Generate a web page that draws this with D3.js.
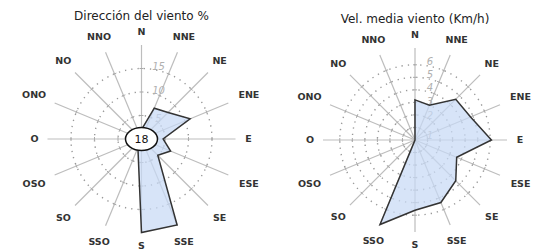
<!DOCTYPE html>
<html>
<head>
<meta charset="utf-8">
<script src="https://cdn.jsdelivr.net/npm/d3@7"></script>
<style>
  body { margin: 0; background: #fff; }
  svg { display: block; }
</style>
</head>
<body>
<div id="chart"></div>
<script>
//16 compass points, clockwise from north (spanish names)
var direcciones = ["N","NNE","NE","ENE","E","ESE","SE","SSE","S","SSO","SO","OSO","O","ONO","NO","NNO"];

//left rose: frequency in % per direction
var frecuencia = [2, 7.1, 8, 11.2, 4.6, 6.7, 4.9, 19.8, 19.9, 2, 1.5, 1.5, 1.5, 1.5, 1.5, 1.5];
var calma = 18;
var ticksFrecuencia = [5, 10, 15];

//right rose: mean speed km/h per direction
var velocidad = [3.2, 3.0, 4.6, 4.8, 6.1, 3.6, 4.6, 5.4, 5.6, 7.3, 0, 0, 0, 0, 0, 0];
var ticksVelocidad = [1, 2, 3, 4, 5, 6];

var width = 533, height = 251;

var svg = d3.select('#chart')
  .append('svg')
  .attr('width', width)
  .attr('height', height);

//draws one rose, all the options in one place
function drawRose(opts) {
  var g = svg.append('g')
    .attr('transform', 'translate(' + opts.cx + ',' + opts.cy + ')');

  var r = d3.scaleLinear().domain(opts.domain).range([0, opts.radius]);
  var step = 2 * Math.PI / direcciones.length;

  //title on top
  svg.append('text')
    .attr('x', opts.cx)
    .attr('y', opts.titleY)
    .attr('text-anchor', 'middle')
    .style('font-family', 'DejaVu Sans, Verdana, sans-serif')
    .style('font-size', '12px')
    .style('fill', '#222')
    .text(opts.title);

  //dotted rings
  g.selectAll('circle.ring')
    .data(opts.ticks)
    .enter()
    .append('circle')
    .attr('class', 'ring')
    .attr('r', function(d) { return r(d); })
    .attr('fill', 'none')
    .attr('stroke', '#999')
    .attr('stroke-width', 1.4)
    .attr('stroke-dasharray', '1.3,5');

  //spokes
  g.selectAll('line.spoke')
    .data(direcciones)
    .enter()
    .append('line')
    .attr('class', 'spoke')
    .attr('x1', 0).attr('y1', 0)
    .attr('x2', function(d, i) { return opts.spoke * Math.sin(i * step); })
    .attr('y2', function(d, i) { return -opts.spoke * Math.cos(i * step); })
    .attr('stroke', '#bdbdbd')
    .attr('stroke-width', 1.2);

  //little ticks where spokes cross the rings
  direcciones.forEach(function(d, i) {
    var a = i * step;
    opts.ticks.forEach(function(t) {
      var rr = r(t);
      var x = rr * Math.sin(a), y = -rr * Math.cos(a);
      var px = 2 * Math.cos(a), py = 2 * Math.sin(a);
      g.append('line')
        .attr('x1', x - px).attr('y1', y - py)
        .attr('x2', x + px).attr('y2', y + py)
        .attr('stroke', '#aaa')
        .attr('stroke-width', 1);
    });
  });

  //ring values next to the N spoke
  g.selectAll('text.tick')
    .data(opts.ticks)
    .enter()
    .append('text')
    .attr('class', 'tick')
    .attr('x', opts.tickDx)
    .attr('y', function(d) {
      var rr = r(d);
      return -Math.sqrt(Math.max(rr * rr - opts.tickDx * opts.tickDx, 0)) - 1;
    })
    .attr('text-anchor', 'middle')
    .style('font-family', 'DejaVu Sans, Verdana, sans-serif')
    .style('font-size', '10px')
    .style('font-style', 'italic')
    .style('fill', '#b0b0b0')
    .text(function(d) { return d; });

  //the data polygon
  var line = d3.lineRadial()
    .angle(function(d, i) { return i * step; })
    .radius(function(d) { return r(d); })
    .curve(d3.curveLinearClosed);

  g.append('path')
    .datum(opts.values)
    .attr('d', line)
    .attr('fill', 'rgb(200,218,245)')
    .attr('fill-opacity', 0.72)
    .attr('stroke', '#333')
    .attr('stroke-width', 1.5)
    .attr('stroke-linejoin', 'miter');

  //calm circle in the middle (only for the frequency rose)
  if (opts.calma != null) {
    g.append('ellipse')
      .attr('rx', 16).attr('ry', 11.5)
      .attr('fill', '#fff')
      .attr('stroke', '#111')
      .attr('stroke-width', 1.5);
    g.append('text')
      .attr('y', 0)
      .attr('dy', '0.36em')
      .attr('text-anchor', 'middle')
      .style('font-family', 'DejaVu Sans, Verdana, sans-serif')
      .style('font-size', '11px')
      .style('fill', '#111')
      .text(opts.calma);
  }

  //compass labels, wider names pushed a bit further out on the sides
  function labelR(d, i) {
    return opts.labelR + Math.abs(Math.sin(i * step)) * (d.length - 1) * 5;
  }
  g.selectAll('text.dir')
    .data(direcciones)
    .enter()
    .append('text')
    .attr('class', 'dir')
    .attr('x', function(d, i) { return labelR(d, i) * Math.sin(i * step); })
    .attr('y', function(d, i) { return -labelR(d, i) * Math.cos(i * step); })
    .attr('dy', '0.36em')
    .attr('text-anchor', 'middle')
    .style('font-family', 'DejaVu Sans, Verdana, sans-serif')
    .style('font-size', '9.5px')
    .style('font-weight', 'bold')
    .style('fill', '#333')
    .text(function(d) { return d; });
}

drawRose({
  cx: 141.5, cy: 139, radius: 94, spoke: 94,
  domain: [0, 20], ticks: ticksFrecuencia, tickDx: 17,
  values: frecuencia, calma: calma,
  title: 'Dirección del viento %', titleY: 20, labelR: 107
});

drawRose({
  cx: 415, cy: 140, radius: 94, spoke: 92,
  domain: [0, 7.5], ticks: ticksVelocidad, tickDx: 15,
  values: velocidad, calma: null,
  title: 'Vel. media viento (Km/h)', titleY: 23, labelR: 105
});
</script>
</body>
</html>
